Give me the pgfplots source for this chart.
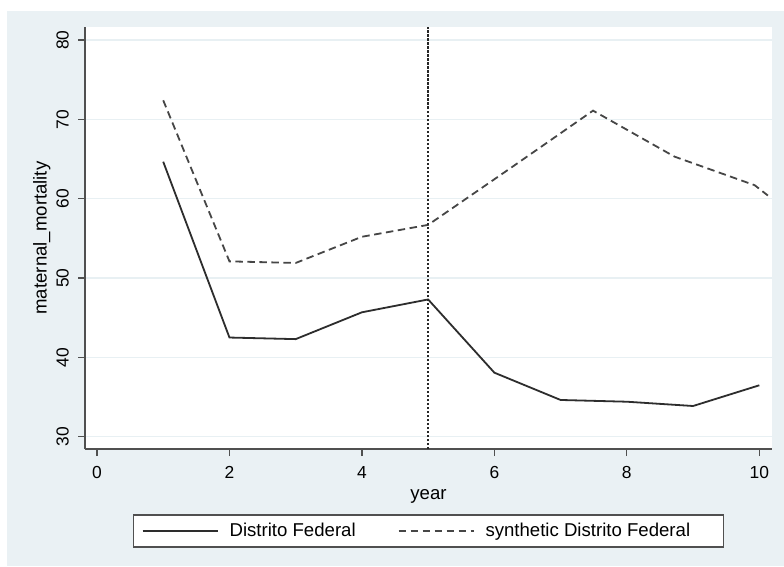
\documentclass[border=0pt]{standalone}
\usepackage{pgfplots}
\pgfplotsset{compat=1.18}
\usepackage{fontspec}
\setmainfont{Liberation Sans}
\definecolor{bg}{RGB}{234,241,244}
\definecolor{gridc}{RGB}{232,240,243}
\definecolor{axc}{RGB}{80,80,80}
\definecolor{ln}{RGB}{45,45,45}
\definecolor{lnd}{RGB}{70,70,70}
\begin{document}
\begin{tikzpicture}[x=1pt,y=1pt]
\path (0,0) rectangle (784,566);
\fill[bg] (7,0) rectangle (784,555);
\begin{axis}[
  at={(85pt,117pt)}, anchor=south west,
  scale only axis, width=687pt, height=422pt,
  xmin=-0.181, xmax=10.192, ymin=28.45, ymax=81.64,
  axis background/.style={fill=white},
  axis x line*=bottom, axis y line*=left,
  axis line style={axc, line width=1.3pt},
  xtick={0,2,4,6,8,10}, ytick={30,40,50,60,70,80},
  tick align=outside, major tick length=7pt,
  tick style={axc, line width=1.2pt},
  ymajorgrids, grid style={gridc, line width=1.2pt},
  /pgf/number format/assume math mode=true,
  tick label style={font=\fontsize{17.4}{20}\selectfont},
  yticklabel style={xshift=-9pt, rotate=90, anchor=south, inner sep=0pt},
  xticklabel style={anchor=north, inner sep=0pt, yshift=-10pt},
  xlabel={year}, ylabel={maternal\_mortality},
  label style={font=\fontsize{18.6}{22}\selectfont},
  xlabel style={at={(axis description cs:0.5,-0.113)}, anchor=center},
  ylabel style={at={(axis description cs:-0.063,0.5)}, anchor=center},
  legend columns=2,
  legend image code/.code={\draw[#1] (0pt,0pt) -- (75pt,0pt);},
  legend style={at={(axis description cs:0.5,-0.1943)}, anchor=center,
    draw=axc, line width=1.1pt, fill=white,
    font=\fontsize{18.6}{22}\selectfont,
    inner xsep=8pt, inner ysep=6.5pt,
    /tikz/every odd column/.append style={column sep=9pt},
    /tikz/every even column/.append style={column sep=40pt}},
]
\addplot[ln, line width=1.8pt] coordinates {
 (1,64.66) (2,42.5) (3,42.3) (4,45.68) (5,47.3) (6,38.07) (7,34.63) (8,34.41) (9,33.87) (10,36.48)};
\addlegendentry{Distrito Federal}
\addplot[lnd, line width=1.8pt, dash pattern=on 7.5pt off 4.5pt] coordinates {
 (1,72.4) (2,52.1) (3,51.9) (4,55.2) (5,56.7) (6.2,63.6) (7.49,71.1) (8.72,65.3) (9.93,61.7) (10.13,60.4)};
\addlegendentry{synthetic Distrito Federal\hspace*{23pt}}
\addplot[black!85, line width=1.4pt, dash pattern=on 2.5pt off 1.5pt, forget plot] coordinates {(5,28.45) (5,81.64)};
\end{axis}
\end{tikzpicture}
\end{document}
